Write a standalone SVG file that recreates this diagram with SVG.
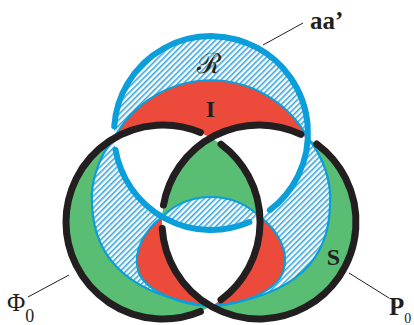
<svg xmlns="http://www.w3.org/2000/svg" width="414" height="325" viewBox="0 0 414 325">
<defs>
<pattern id="hatch" patternUnits="userSpaceOnUse" width="4" height="4" patternTransform="rotate(45)">
<rect x="0" y="0" width="4" height="4" fill="#ffffff"/>
<rect x="0" y="0" width="1.6" height="4" fill="#3aa8de"/>
</pattern>
</defs>
<style>
.h{fill:url(#hatch);stroke:none}
.g{fill:#5abd74;stroke:none}
.r{fill:#ec4a3a;stroke:none}
.thin{fill:none;stroke:#0a9edb;stroke-width:2.2}
.blue{fill:none;stroke:#0a9edb;stroke-width:6;stroke-linecap:round}
.blk{fill:none;stroke:#231f20;stroke-width:7;stroke-linecap:round}
.lead{fill:none;stroke:#231f20;stroke-width:1}
.lb{font-family:"Liberation Serif",serif;fill:#231f20}
</style>
<g id="surfaces">
<path class="h" d="M 114.1 138.2 A 97 97 0 1 1 307.9 138.2 A 110 110 0 0 0 114.1 138.2 Z"/>
<path class="r" d="M 114.1 138.2 A 110 110 0 0 1 307.9 138.2 A 97 97 0 0 0 211 137.7 A 97 97 0 0 0 114.1 138.2 Z"/>
<path class="g" d="M 114.1 138.2 A 97 97 0 0 0 66 222 A 97 97 0 0 0 211 306.3 C 125 295 94 255 92 205 C 90 180 100 155 114.1 138.2 Z"/>
<path class="h" d="M 114.1 138.2 C 100 155 90 180 92 205 C 94 255 125 295 211 306.3 C 180 305 143 290 138 270 C 133 250 145 230 162.1 216.8 A 97 97 0 0 1 114.1 138.2 Z"/>
<path class="r" d="M 162.1 216.8 C 145 230 133 250 138 270 C 143 290 180 305 211 306.3 A 97 97 0 0 1 162.1 216.8 Z"/>
<path class="g" d="M 307.9 138.2 A 97 97 0 0 1 356 222 A 97 97 0 0 1 211 306.3 C 299 296 329 257 330 205 C 332 180 322 155 307.9 138.2 Z"/>
<path class="h" d="M 307.9 138.2 C 322 155 332 180 330 205 C 329 257 299 296 211 306.3 C 240 305 276 292 283 272 C 290 252 278 230 259.9 216.8 A 97 97 0 0 0 307.9 138.2 Z"/>
<path class="r" d="M 259.9 216.8 C 278 230 290 252 283 272 C 276 292 240 305 211 306.3 A 97 97 0 0 0 259.9 216.8 Z"/>
<path class="g" d="M 211 137.7 A 97 97 0 0 1 259.9 216.8 A 70.3 70.3 0 0 0 162.1 216.8 A 97 97 0 0 1 211 137.7 Z"/>
<path class="h" d="M 162.1 216.8 A 70.3 70.3 0 0 1 259.9 216.8 A 97 97 0 0 1 162.1 216.8 Z"/>
</g>
<g id="surface-edges">
<path class="thin" d="M 114.1 138.2 A 110 110 0 0 1 307.9 138.2"/>
<path class="thin" d="M 114.1 138.2 C 100 155 90 180 92 205 C 94 255 125 295 211 306.3"/>
<path class="thin" d="M 162.1 216.8 C 145 230 133 250 138 270 C 143 290 180 305 211 306.3"/>
<path class="thin" d="M 307.9 138.2 C 322 155 332 180 330 205 C 329 257 299 296 211 306.3"/>
<path class="thin" d="M 259.9 216.8 C 278 230 290 252 283 272 C 276 292 240 305 211 306.3"/>
<path class="thin" d="M 162.1 216.8 A 70.3 70.3 0 0 1 259.9 216.8"/>
</g>
<g id="ring-aa">
<path class="blue" d="M 249.4 222.1 A 97 97 0 0 1 115.5 149.8"/>
<path class="blue" d="M 114.2 126.2 A 97 97 0 1 1 269.8 210.2"/>
</g>
<g id="ring-phi0">
<path class="blk" d="M 200.4 311.5 A 97 97 0 1 1 200.4 132.5"/>
<path class="blk" d="M 221.0 144.2 A 97 97 0 0 1 221.0 299.8"/>
</g>
<g id="ring-p0">
<path class="blk" d="M 316.7 144.0 A 97 97 0 1 1 162.2 228.6"/>
<path class="blk" d="M 163.5 205.0 A 97 97 0 0 1 300.8 134.4"/>
</g>
<g id="connectors">
<line class="lead" x1="263" y1="45" x2="303" y2="23"/>
<line class="lead" x1="28" y1="297" x2="69" y2="275"/>
<line class="lead" x1="349" y1="273" x2="389" y2="298"/>
</g>
<g id="labels">
<text class="lb" x="310" y="29" font-size="25" font-weight="bold">aa’</text>
<text class="lb" x="209" y="73" font-size="28" text-anchor="middle" font-family="DejaVu Serif, serif">ℛ</text>
<text class="lb" x="210.5" y="117" font-size="24" font-weight="bold" text-anchor="middle">I</text>
<text class="lb" x="333.5" y="265" font-size="24" font-weight="bold" text-anchor="middle">S</text>
<text class="lb" x="7" y="311" font-size="25">Φ<tspan font-size="18" dy="11">0</tspan></text>
<text class="lb" x="389" y="315" font-size="25" font-weight="bold">P<tspan font-size="14" font-weight="normal" dy="8">0</tspan></text>
</g>
</svg>
